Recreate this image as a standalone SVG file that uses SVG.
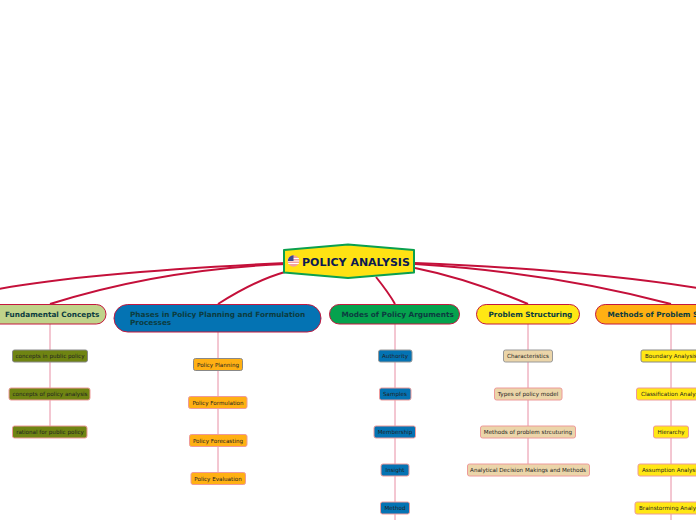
<svg xmlns="http://www.w3.org/2000/svg" width="696" height="520" viewBox="0 0 696 520">
<style>
text{font-family:"DejaVu Sans",Verdana,sans-serif}
.m{fill:none;stroke:#c4103a;stroke-width:2}
.c{fill:none;stroke:#e88ea4;stroke-width:1}
.b{stroke:#c4183f;stroke-width:1}
.s{stroke:#ee9a9a;stroke-width:1}
.bt{font-size:7.3px;font-weight:700;fill:#0c3c40}
.st{font-size:5.6px;fill:#222}
</style>
<rect width="696" height="520" fill="#fff"/>
<g id="connectors">
<path class="m" d="M286 263C180 268 70 276 -2 289"/>
<path class="m" d="M286 264C190 268 110 285 50 304"/>
<path class="m" d="M285 272C260 279 240 290 218 304"/>
<path class="m" d="M376 277C384 287 390 295 395 304"/>
<path class="m" d="M415 268C450 275 490 288 528 304"/>
<path class="m" d="M415 264C510 270 600 285 671 304"/>
<path class="m" d="M415 263C520 267 620 276 698 288"/>
<path class="c" d="M50 324V350M50 362V388M50 400V426"/>
<path class="c" d="M218 332V358M218 371V396M218 409V434M218 447V472"/>
<path class="c" d="M395 324V350M395 362V388M395 400V426M395 438V464M395 476V502M395 514V520"/>
<path class="c" d="M528 324V350M528 362V388M528 400V426M528 438V464"/>
<path class="c" d="M671 324V350M671 362V388M671 400V426M671 438V464M671 476V502M671 514V520"/>
</g>
<g id="root">
<path d="M284 250L348 244.500L414 250V272.500L348 278L284 272.500Z" fill="#ffe213" stroke="#0ba04e" stroke-width="2" stroke-linejoin="round"/>
<g>
<circle cx="293.500" cy="261" r="5.800" fill="#f2a0a0"/>
<path d="M288.200 258.500H298.800M287.800 261H299.200M288.200 263.500H298.800" stroke="#fff" stroke-width="1"/>
<path d="M287.800 261A5.800 5.800 0 0 1 293.500 255.200V261Z" fill="#3c4a8c"/>
</g>
<text x="302" y="265.500" font-size="11" font-weight="700" fill="#0c1a52">POLICY ANALYSIS</text>
</g>
<g id="fundamental">
<rect class="b" x="-12" y="304.500" width="118" height="19.500" rx="9.700" fill="#c0d38a"/>
<text class="bt" x="5" y="317">Fundamental Concepts</text>
</g>
<g id="phases">
<rect class="b" x="114" y="304.500" width="207" height="27.500" rx="13.700" fill="#0473b3"/>
<text class="bt" x="130" y="317">Phases in Policy Planning and Formulation</text>
<text class="bt" x="130" y="325">Processes</text>
</g>
<g id="modes">
<rect class="b" x="329.500" y="304.500" width="130" height="19.500" rx="9.700" fill="#05a24e"/>
<text class="bt" x="341.500" y="317">Modes of Policy Arguments</text>
</g>
<g id="structuring">
<rect class="b" x="476.500" y="304.500" width="103" height="19.500" rx="9.700" fill="#ffe714"/>
<text class="bt" x="488.500" y="317">Problem Structuring</text>
</g>
<g id="methods">
<rect class="b" x="595.500" y="304.500" width="130" height="19.500" rx="9.700" fill="#ffb013"/>
<text class="bt" x="607.500" y="317">Methods of Problem Structuring</text>
</g>
<g id="f1"><rect x="12.500" y="350" width="75" height="12" rx="2" fill="#6f8412" stroke="#888" /><text class="st" x="50" y="358" text-anchor="middle">concepts in public policy</text></g>
<g id="f2"><rect class="s" x="9" y="388" width="81" height="12" rx="2" fill="#6f8412" /><text class="st" x="50" y="396" text-anchor="middle">concepts of policy analysis</text></g>
<g id="f3"><rect class="s" x="12.500" y="426" width="74.500" height="12" rx="2" fill="#6f8412" /><text class="st" x="50" y="434" text-anchor="middle">rational for public policy</text></g>
<g id="p1"><rect x="193.500" y="358.500" width="49" height="12" rx="2" fill="#ffb013" stroke="#888"/><text class="st" x="218" y="366.500" text-anchor="middle">Policy Planning</text></g>
<g id="p2"><rect class="s" x="188.500" y="396.500" width="58.500" height="12" rx="2" fill="#ffb013"/><text class="st" x="218" y="404.500" text-anchor="middle">Policy Formulation</text></g>
<g id="p3"><rect class="s" x="189.500" y="434.500" width="57.500" height="12" rx="2" fill="#ffb013"/><text class="st" x="218" y="442.500" text-anchor="middle">Policy Forecasting</text></g>
<g id="p4"><rect class="s" x="191" y="472.500" width="54.500" height="12" rx="2" fill="#ffb013"/><text class="st" x="218" y="480.500" text-anchor="middle">Policy Evaluation</text></g>
<g id="a1"><rect x="378.500" y="350" width="33.500" height="12" rx="2" fill="#0473b3" stroke="#999"/><text class="st" x="395" y="358" text-anchor="middle">Authority</text></g>
<g id="a2"><rect class="s" x="379.500" y="388" width="31.500" height="12" rx="2" fill="#0473b3"/><text class="st" x="395" y="396" text-anchor="middle">Samples</text></g>
<g id="a3"><rect class="s" x="374" y="426" width="41.500" height="12" rx="2" fill="#0473b3"/><text class="st" x="395" y="434" text-anchor="middle">Membership</text></g>
<g id="a4"><rect class="s" x="381" y="464" width="28" height="12" rx="2" fill="#0473b3"/><text class="st" x="395" y="472" text-anchor="middle">Insight</text></g>
<g id="a5"><rect class="s" x="380.500" y="502" width="29" height="12" rx="2" fill="#0473b3"/><text class="st" x="395" y="510" text-anchor="middle">Method</text></g>
<g id="s1"><rect x="503.500" y="350" width="49" height="12" rx="2" fill="#ebd5a9" stroke="#999"/><text class="st" x="528" y="358" text-anchor="middle">Characteristics</text></g>
<g id="s2"><rect class="s" x="494.500" y="388" width="67.500" height="12" rx="2" fill="#ebd5a9"/><text class="st" x="528" y="396" text-anchor="middle">Types of policy model</text></g>
<g id="s3"><rect class="s" x="480.500" y="426" width="95" height="12" rx="2" fill="#ebd5a9"/><text class="st" x="528" y="434" text-anchor="middle">Methods of problem strcuturing</text></g>
<g id="s4"><rect class="s" x="467.500" y="464" width="122" height="12" rx="2" fill="#ebd5a9"/><text class="st" x="528" y="472" text-anchor="middle">Analytical Decision Makings and Methods</text></g>
<g id="m1"><rect x="641" y="350" width="60" height="12" rx="2" fill="#ffe714" stroke="#888"/><text class="st" x="645" y="358">Boundary Analysis</text></g>
<g id="m2"><rect class="s" x="636.500" y="388" width="70" height="12" rx="2" fill="#ffe714"/><text class="st" x="641" y="396">Classification Analysis</text></g>
<g id="m3"><rect class="s" x="653.500" y="426" width="35" height="12" rx="2" fill="#ffe714"/><text class="st" x="671" y="434" text-anchor="middle">Hierarchy</text></g>
<g id="m4"><rect class="s" x="638" y="464" width="66" height="12" rx="2" fill="#ffe714"/><text class="st" x="642" y="472">Assumption Analysis</text></g>
<g id="m5"><rect class="s" x="635" y="502" width="72" height="12" rx="2" fill="#ffe714"/><text class="st" x="639" y="510">Brainstorming Analysis</text></g>
</svg>
